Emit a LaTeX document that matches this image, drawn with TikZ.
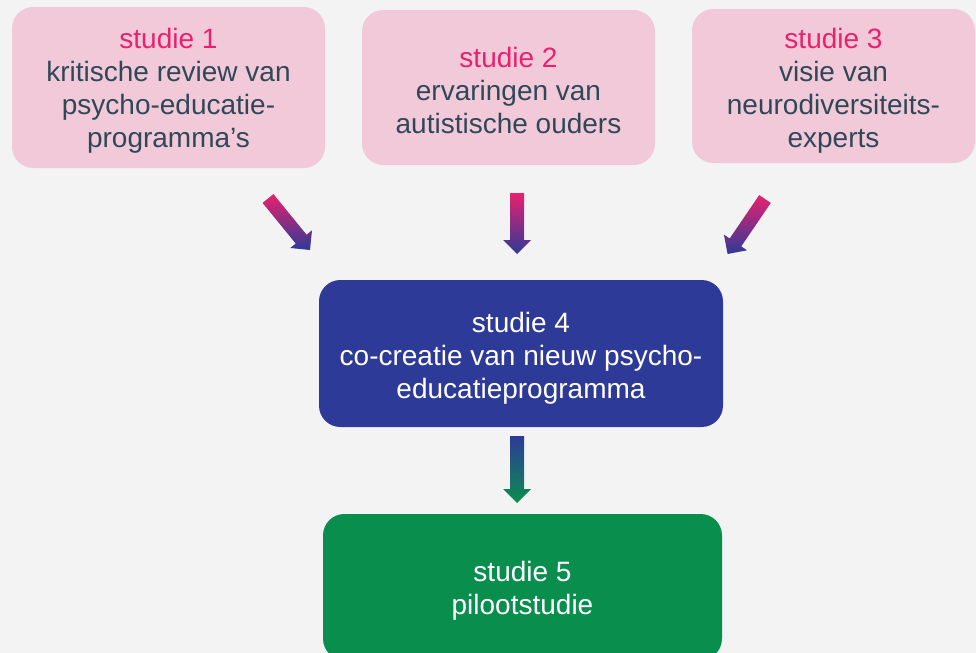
\documentclass[tikz,border=0pt]{standalone}
\usepackage{fontspec}
\setmainfont{Liberation Sans}
\usetikzlibrary{calc,positioning}

\definecolor{bgcol}{HTML}{F3F3F3}
\definecolor{boxpink}{HTML}{F2C9D8}
\definecolor{textpink}{HTML}{E8216F}
\definecolor{textdark}{HTML}{2F4858}
\definecolor{boxblue}{HTML}{2E3A97}
\definecolor{boxgreen}{HTML}{0A8E4E}

\tikzset{
  studybox/.style={rounded corners=16pt, inner sep=0pt},
  pinkbox/.style={studybox, fill=boxpink},
  bluebox/.style={studybox, fill=boxblue},
  greenbox/.style={studybox, fill=boxgreen},
  boxtext/.style={inner sep=0pt, align=center, font=\fontsize{21}{24.75}\selectfont}
}

% block arrow with gradient: from, to, top colour, bottom colour
\newcommand{\blockarrow}[4]{%
  \coordinate (hb) at ($(#2)!10.5pt!(#1)$);
  \shade[top color=#3, bottom color=#4]
    ($(#1)!5.25pt!90:(#2)$) -- ($(hb)!5.25pt!-90:(#1)$) -- ($(hb)!10.5pt!-90:(#1)$)
    -- (#2) -- ($(hb)!10.5pt!90:(#1)$) -- ($(hb)!5.25pt!90:(#1)$)
    -- ($(#1)!5.25pt!-90:(#2)$) -- cycle;
}

\begin{document}
\begin{tikzpicture}[x=0.75pt, y=-0.75pt]
        % Canvas
        \clip (0,0) rectangle (976,653);
        \fill[bgcol] (0,0) rectangle (976,653);
        % Input studies
        \node[pinkbox, minimum width=234.75pt, minimum height=120.75pt] (s1) at (168.5,87.5) {};
        \node[boxtext, text=textdark] (t1) at ([yshift=-2.6pt]s1.center)
            {\textcolor{textpink}{studie 1}\\kritische review van\\psycho-educatie-\\programma’s};
        \node[pinkbox, minimum width=219.75pt, minimum height=116.25pt] (s2) at (508.5,87.5) {};
        \node[boxtext, text=textdark] (t2) at ([yshift=-2.2pt]s2.center)
            {\textcolor{textpink}{studie 2}\\ervaringen van\\autistische ouders};
        \node[pinkbox, minimum width=212.25pt, minimum height=115.5pt] (s3) at (833.5,86) {};
        \node[boxtext, text=textdark] (t3) at ([yshift=-3.2pt]s3.center)
            {\textcolor{textpink}{studie 3}\\visie van\\neurodiversiteits-\\experts};
        % Co-creation
        \node[bluebox, minimum width=303pt, minimum height=110.25pt] (s4) at (521,353.5) {};
        \node[boxtext, text=white] (t4) at ([yshift=-3.75pt]s4.center)
            {studie 4\\co-creatie van nieuw psycho-\\educatieprogramma};
        % Pilot
        \node[greenbox, minimum width=299.25pt, minimum height=109.5pt] (s5) at (522.5,587) {};
        \node[boxtext, text=white] (t5) at ([yshift=-2.6pt]s5.center)
            {studie 5\\pilootstudie};
        % Arrow ends
        \coordinate (a1s) at (268,198.5);
        \coordinate (a1e) at (310,250);
        \coordinate (a2s) at (517,193);
        \coordinate (a2e) at (517,254);
        \coordinate (a3s) at (765,199);
        \coordinate (a3e) at (727.6,254);
        \coordinate (a4s) at (517,436);
        \coordinate (a4e) at (517,503);
        % Arrows
        \blockarrow{a1s}{a1e}{textpink}{boxblue}
        \blockarrow{a2s}{a2e}{textpink}{boxblue}
        \blockarrow{a3s}{a3e}{textpink}{boxblue}
        \blockarrow{a4s}{a4e}{boxblue}{boxgreen}
    \end{tikzpicture}
\end{document}
